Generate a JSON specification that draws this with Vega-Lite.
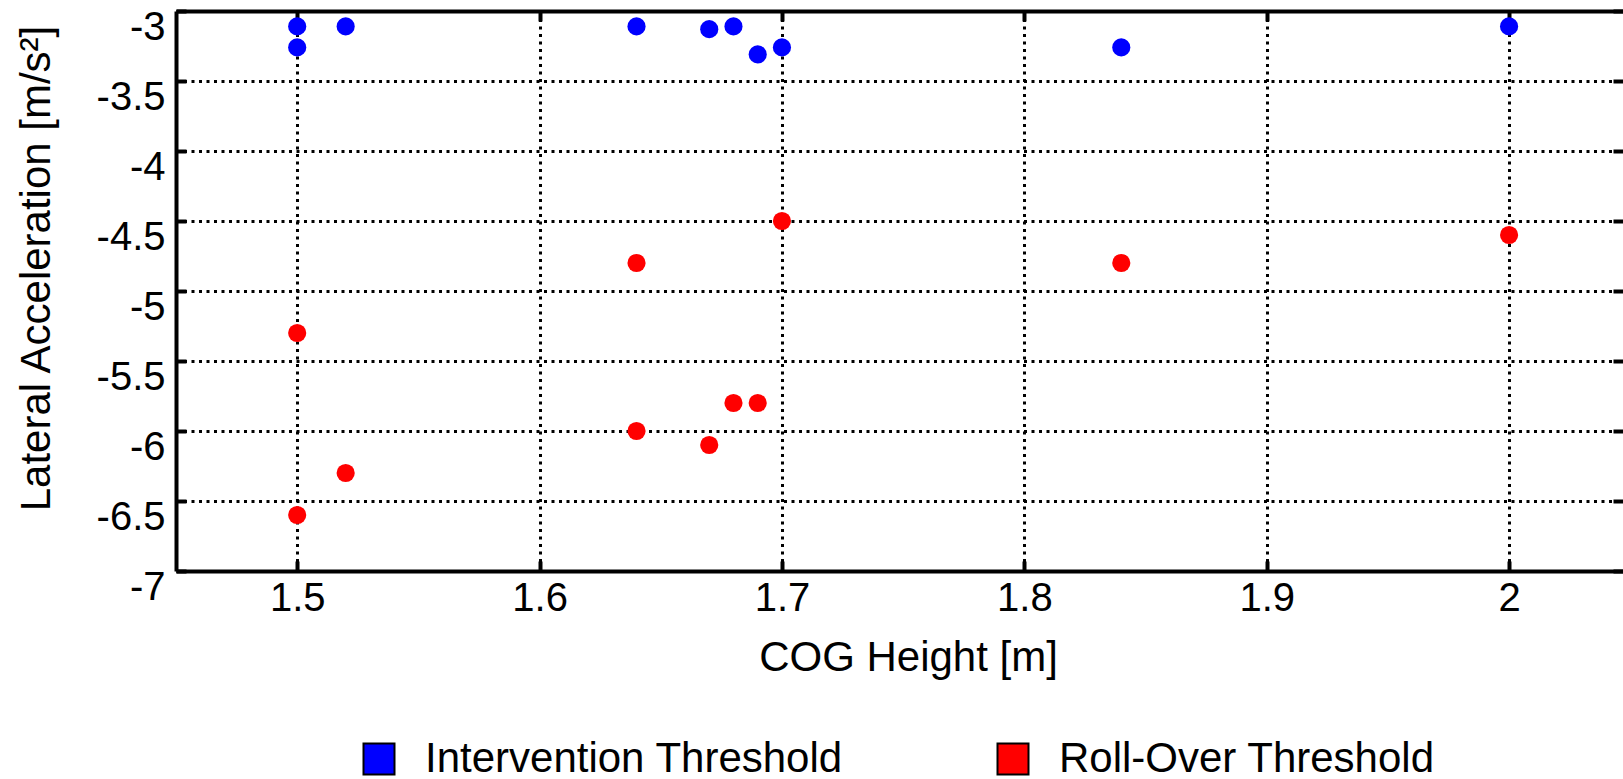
{
  "$schema": "https://vega.github.io/schema/vega-lite/v6.json",
  "width": 1447,
  "height": 560,
  "autosize": {"type": "none"},
  "padding": {"left": 176, "top": 11, "right": 0, "bottom": 208},
  "background": "white",
  "config": {"view": {"stroke": null}, "font": "Liberation Sans"},
  "data": {
    "values": [
      {"h": 1.5, "a": -3.11, "s": "Intervention Threshold"},
      {"h": 1.5, "a": -3.26, "s": "Intervention Threshold"},
      {"h": 1.52, "a": -3.11, "s": "Intervention Threshold"},
      {"h": 1.64, "a": -3.11, "s": "Intervention Threshold"},
      {"h": 1.67, "a": -3.13, "s": "Intervention Threshold"},
      {"h": 1.68, "a": -3.11, "s": "Intervention Threshold"},
      {"h": 1.69, "a": -3.31, "s": "Intervention Threshold"},
      {"h": 1.7, "a": -3.26, "s": "Intervention Threshold"},
      {"h": 1.84, "a": -3.26, "s": "Intervention Threshold"},
      {"h": 2.0, "a": -3.11, "s": "Intervention Threshold"},
      {"h": 1.5, "a": -5.3, "s": "Roll-Over Threshold"},
      {"h": 1.5, "a": -6.6, "s": "Roll-Over Threshold"},
      {"h": 1.52, "a": -6.3, "s": "Roll-Over Threshold"},
      {"h": 1.64, "a": -4.8, "s": "Roll-Over Threshold"},
      {"h": 1.64, "a": -6.0, "s": "Roll-Over Threshold"},
      {"h": 1.67, "a": -6.1, "s": "Roll-Over Threshold"},
      {"h": 1.68, "a": -5.8, "s": "Roll-Over Threshold"},
      {"h": 1.69, "a": -5.8, "s": "Roll-Over Threshold"},
      {"h": 1.7, "a": -4.5, "s": "Roll-Over Threshold"},
      {"h": 1.84, "a": -4.8, "s": "Roll-Over Threshold"},
      {"h": 2.0, "a": -4.6, "s": "Roll-Over Threshold"}
    ]
  },
  "layer": [
    {
      "mark": {"type": "circle", "size": 330, "opacity": 1},
      "encoding": {
        "x": {
          "field": "h", "type": "quantitative",
          "scale": {"domain": [1.45, 2.047], "nice": false, "zero": false},
          "axis": {
            "orient": "bottom",
            "values": [1.5, 1.6, 1.7, 1.8, 1.9, 2],
            "labelExpr": "toString(datum.value)",
            "labelFontSize": 40, "labelColor": "black", "labelPadding": 17,
            "labelFlush": false, "labelOverlap": false, "labelBound": false,
            "domainColor": "black", "domainWidth": 4,
            "tickColor": "black", "tickWidth": 4, "tickSize": -10,
            "grid": true, "gridColor": "black", "gridDash": [3, 4.5], "gridWidth": 3, "gridOpacity": 1,
            "title": "COG Height [m]", "titleFontSize": 42, "titleFontWeight": "normal", "titleColor": "black",
            "titleX": 732, "titleY": 99, "titleBaseline": "alphabetic", "titleAlign": "center"
          }
        },
        "y": {
          "field": "a", "type": "quantitative",
          "scale": {"domain": [-7, -3], "nice": false, "zero": false},
          "axis": {
            "orient": "left",
            "values": [-7, -6.5, -6, -5.5, -5, -4.5, -4, -3.5, -3],
            "labelExpr": "toString(datum.value)",
            "labelFontSize": 40, "labelColor": "black", "labelPadding": 21, "labelOffset": 16,
            "labelFlush": false, "labelOverlap": false, "labelBound": false,
            "domainColor": "black", "domainWidth": 4,
            "tickColor": "black", "tickWidth": 4, "tickSize": -10,
            "grid": true, "gridColor": "black", "gridDash": [3, 4.5], "gridWidth": 3, "gridOpacity": 1,
            "title": "Lateral Acceleration [m/s²]", "titleFontSize": 42, "titleFontWeight": "normal", "titleColor": "black",
            "titleX": -140, "titleY": 257, "titleAngle": -90, "titleBaseline": "middle", "titleAlign": "center"
          }
        },
        "fill": {
          "field": "s", "type": "nominal",
          "scale": {"domain": ["Intervention Threshold", "Roll-Over Threshold"], "range": ["#0000ff", "#ff0000"]},
          "legend": {
            "orient": "none", "legendX": 182, "legendY": 727,
            "direction": "horizontal", "title": null,
            "symbolType": "square", "symbolSize": 961,
            "symbolStrokeColor": "black", "symbolStrokeWidth": 2, "symbolOpacity": 1,
            "labelFontSize": 42, "labelColor": "black", "labelOffset": 25, "labelLimit": 0,
            "columnPadding": 149, "padding": 0,
            "encode": {"symbols": {"update": {"stroke": {"value": "black"}, "strokeWidth": {"value": 2}}}}
          }
        }
      }
    },
    {
      "mark": {"type": "circle", "opacity": 0},
      "encoding": {
        "x": {
          "field": "h", "type": "quantitative",
          "axis": {
            "orient": "top", "values": [1.5, 1.6, 1.7, 1.8, 1.9, 2],
            "labels": false, "title": null, "grid": false,
            "domainColor": "black", "domainWidth": 4,
            "tickColor": "black", "tickWidth": 4, "tickSize": -10
          }
        },
        "y": {
          "field": "a", "type": "quantitative",
          "axis": {
            "orient": "right", "values": [-7, -6.5, -6, -5.5, -5, -4.5, -4, -3.5, -3],
            "labels": false, "title": null, "grid": false, "domain": false,
            "tickColor": "black", "tickWidth": 4, "tickSize": -10
          }
        }
      }
    }
  ],
  "resolve": {"axis": {"x": "independent", "y": "independent"}}
}
